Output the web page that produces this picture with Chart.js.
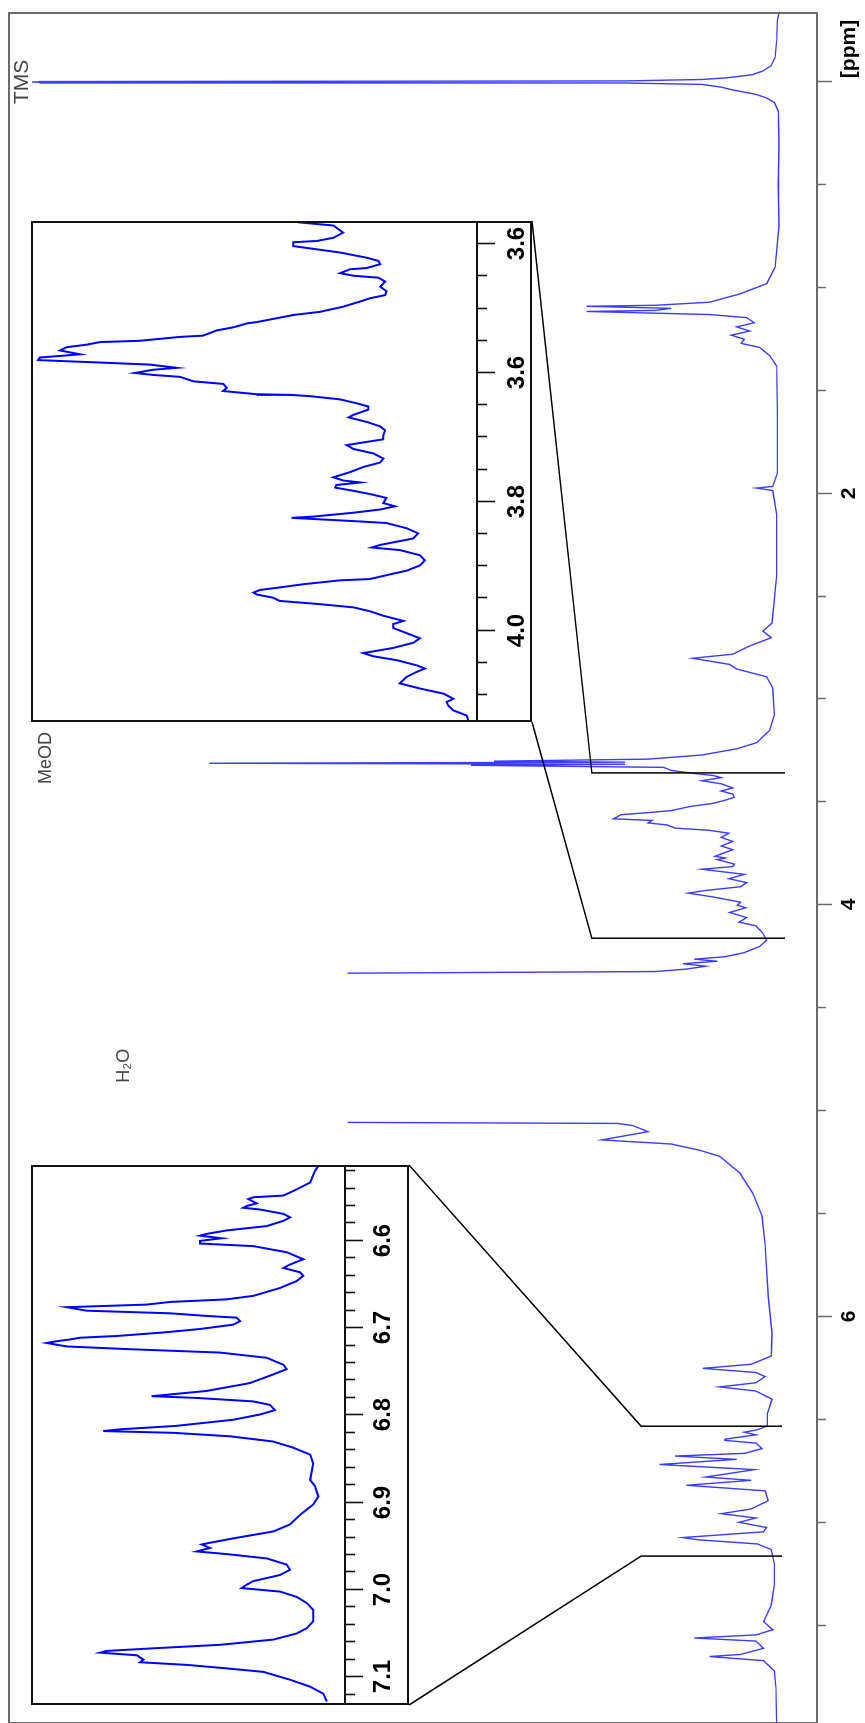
<!DOCTYPE html>
<html lang="en">
<head>
<meta charset="UTF-8">
<title>1H NMR spectrum</title>
<script src="https://cdn.jsdelivr.net/npm/chart.js"></script>
<style>
  html, body { margin: 0; padding: 0; background: #fff; }
  #wrap { position: relative; width: 865px; height: 1723px; overflow: hidden; background: #fff; }
  /* spectrum is laid out the normal way, then turned a quarter turn */
  #rot { position: absolute; left: 0; top: 0; width: 1723px; height: 865px;
         transform-origin: 0 0; transform: translateY(1723px) rotate(-90deg); }
  #rot canvas { position: absolute; }
  .inset { position: absolute; background: #fff; }
</style>
</head>
<body>
<div id="wrap">
  <div id="rot">
    <canvas id="mainChart" width="1723" height="865" style="left:0;top:0"></canvas>
    <div class="inset" id="box1" style="left:1001px;top:31px;width:501px;height:501px">
      <canvas id="inset1" width="501" height="501"></canvas>
    </div>
    <div class="inset" id="box2" style="left:18px;top:31px;width:540px;height:378px">
      <canvas id="inset2" width="540" height="378"></canvas>
    </div>
  </div>
</div>

<script>
// ---- main spectrum (ppm, relative intensity) ----
const mainPpm = [
  -0.335, -0.30, -0.20, -0.12, -0.08, -0.053, -0.035, -0.02, -0.012, -0.005, -0.002, 0.0, 0.002, 0.005, 0.012, 0.025, 0.039, 0.06, 0.078, 0.10, 0.141,
  0.3, 0.5, 0.7, 0.9, 0.98, 1.03, 1.07, 1.085, 1.09, 1.10, 1.11, 1.115, 1.13, 1.145, 1.17, 1.19, 1.21, 1.23, 1.25, 1.27, 1.29, 1.33, 1.38,
  1.6, 1.9, 1.965, 1.973, 1.985, 2.1, 2.4, 2.629, 2.668, 2.70, 2.74, 2.78, 2.80, 2.83, 2.852, 2.89, 2.945, 3.076, 3.15, 3.21, 3.24, 3.27,
  3.29, 3.30, 3.305, 3.31, 3.315, 3.32, 3.33, 3.345, 3.357, 3.37, 3.38, 3.395, 3.41, 3.43, 3.445, 3.46, 3.475, 3.49, 3.505, 3.52, 3.54,
  3.55, 3.56, 3.58, 3.588, 3.60, 3.61, 3.625, 3.636, 3.65, 3.67, 3.69, 3.712, 3.73, 3.762, 3.77, 3.778, 3.80, 3.812, 3.825, 3.85, 3.871,
  3.89, 3.91, 3.928, 3.941, 3.96, 3.985, 4.00, 4.012, 4.035, 4.06, 4.082, 4.10, 4.135, 4.17, 4.20, 4.23, 4.25, 4.262, 4.272, 4.284,
  4.296, 4.31, 4.322, 4.33, 4.7, 5.055, 5.06, 5.07, 5.10, 5.14, 5.16, 5.19, 5.22, 5.30, 5.40, 5.51, 5.65, 5.90, 6.08, 6.19, 6.23, 6.25, 6.27,
  6.29, 6.32, 6.34, 6.36, 6.40, 6.47, 6.53, 6.548, 6.56, 6.573, 6.594, 6.60, 6.613, 6.64, 6.663, 6.676, 6.692, 6.717, 6.742, 6.778,
  6.794, 6.818, 6.845, 6.893, 6.933, 6.956, 6.977, 6.998, 7.023, 7.044, 7.072, 7.083, 7.103, 7.13, 7.2, 7.3, 7.40, 7.48, 7.52, 7.545,
  7.56, 7.575, 7.61, 7.64, 7.65, 7.67, 7.72, 7.8, 7.973
];
const mainInt = [
  0.0, 0.2, 0.3, 0.5, 1.0, 2.1, 3.5, 6.8, 10, 20, 96, 97, 96, 20, 10, 7.5, 6.0, 3.0, 1.6, 0.6, 0.1,
  0.0, 0.1, 0.0, 0.5, 1.6, 5.1, 9, 16, 25, 14, 16, 25, 9, 4.2, 3.2, 5.5, 3.8, 6.2, 4.5, 4.9, 2.5, 1.2, 0.3,
  0.2, 0.2, 0.8, 2.9, 0.8, 0.3, 0.3, 0.9, 2.1, 1.0, 3.8, 6.0, 11.2, 6.4, 5.5, 1.6, 0.8, 0.6, 1.2, 2.9, 5.5, 10,
  17, 37, 20, 74, 20, 40, 15, 14, 11.6, 8.5, 7.5, 10, 7.5, 6, 7.5, 6, 5.8, 7, 8.6, 11.5, 14,
  17, 20.5, 21.5, 16.5, 17, 14.5, 13.5, 9, 6.5, 7.5, 6, 7.5, 6, 8.3, 7, 8, 5.8, 6, 10, 4.5, 6.5,
  4.2, 5, 9.5, 11.8, 8.5, 5, 5.4, 4.3, 6.4, 4.2, 5.2, 3, 2.1, 1.6, 2.5, 4.5, 7, 11, 8, 12.5,
  9.5, 12, 16, 56, null, 56, 21, 19, 17, 23, 14, 10.3, 7.7, 5.1, 3.4, 2.2, 1.8, 1.4, 0.9, 1.0, 3.6, 9.9, 3,
  1.8, 3, 7.7, 3, 0.9, 1.5, 1.5, 2.8, 4.5, 3, 7, 7, 3, 2.2, 4.5, 13.5, 5.5, 15.5, 3.2, 9.5,
  3.6, 12, 1.8, 1.4, 3.6, 7.5, 3, 5.2, 1.6, 2, 12.5, 10.5, 2.8, 1, 0.6, 0.6, 1.0, 2.0, 0.8, 3,
  11, 3, 2, 5, 9, 2, 0.6, 0.4, 0.3
];
const mainTicks = [0, 0.5, 1, 1.5, 2, 2.5, 3, 3.5, 4, 4.5, 5, 5.5, 6, 6.5, 7, 7.5];
const mainTickLabels = ['', '', '', '', '2', '', '', '', '4', '', '', '', '6', '', '', ''];
const mainMajor = [0, 2, 4, 6];
const peakNames = ['TMS', 'MeOD', 'H\u2082O'];
const peakPpm = [0.0, 3.285, 4.78];
const peakLabelInt = [98.3, 95.2, 85];

// ---- zoomed region 1: 3.36 - 4.14 ppm ----
const zoom1Ppm = [
  3.366, 3.371, 3.382, 3.390, 3.395, 3.397, 3.403, 3.408, 3.413, 3.421, 3.426, 3.431, 3.437, 3.439, 3.445, 3.449, 3.452, 3.458,
  3.466, 3.473, 3.479, 3.484, 3.489, 3.497, 3.505, 3.510, 3.515, 3.521, 3.523, 3.529, 3.534, 3.542, 3.544, 3.550, 3.552, 3.556,
  3.560, 3.565, 3.571, 3.576, 3.580, 3.584, 3.587, 3.592, 3.595, 3.600, 3.603, 3.606, 3.613, 3.617, 3.623, 3.628, 3.633, 3.634,
  3.636, 3.641, 3.647, 3.652, 3.657, 3.665, 3.669, 3.676, 3.683, 3.689, 3.697, 3.703, 3.707, 3.712, 3.718, 3.725, 3.733, 3.739,
  3.746, 3.754, 3.762, 3.767, 3.770, 3.774, 3.778, 3.783, 3.788, 3.794, 3.802, 3.807, 3.812, 3.817, 3.823, 3.825, 3.830, 3.833,
  3.841, 3.849, 3.857, 3.862, 3.867, 3.871, 3.875, 3.883, 3.891, 3.899, 3.907, 3.914, 3.920, 3.922, 3.928, 3.933, 3.937, 3.941,
  3.944, 3.949, 3.954, 3.959, 3.964, 3.970, 3.977, 3.985, 3.990, 3.996, 4.004, 4.012, 4.019, 4.027, 4.035, 4.040, 4.046, 4.054,
  4.059, 4.064, 4.072, 4.082, 4.090, 4.098, 4.106, 4.111, 4.117, 4.124, 4.132, 4.140
];
const zoom1Int = [
  40.1, 32.2, 30.0, 32.2, 35.9, 41.2, 41.2, 35.9, 30.7, 24.7, 22.1, 21.7, 24.7, 28.5, 30.7, 27.7, 22.1, 20.6,
  21.7, 20.3, 20.6, 24.0, 26.2, 30.0, 35.2, 41.2, 44.9, 49.4, 51.6, 54.6, 58.4, 61.4, 66.6, 75.6, 84.5, 87.5,
  92.0, 93.5, 89.0, 98.0, 98.4, 83.8, 73.3, 67.3, 72.6, 76.7, 72.6, 66.6, 63.6, 56.9, 56.1, 56.9, 49.4, 41.9,
  37.4, 30.7, 27.0, 24.4, 24.4, 27.7, 28.8, 24.7, 21.7, 20.6, 21.0, 21.0, 24.7, 29.2, 27.7, 23.2, 21.0, 21.7,
  25.5, 28.5, 32.2, 30.0, 26.2, 31.5, 31.8, 27.7, 24.0, 20.3, 21.0, 18.4, 21.7, 27.7, 36.7, 41.6, 27.7, 20.3,
  15.8, 13.2, 14.3, 18.0, 21.7, 23.6, 17.3, 12.8, 11.7, 12.8, 15.8, 20.3, 24.0, 30.7, 38.9, 44.2, 48.7, 50.1,
  49.4, 45.7, 44.2, 35.2, 27.7, 24.0, 21.0, 16.5, 18.8, 18.8, 15.8, 12.8, 14.3, 18.8, 25.5, 23.2, 18.0, 13.5,
  11.7, 13.5, 15.8, 17.3, 12.8, 7.5, 5.3, 6.8, 6.4, 5.3, 2.3, 1.9
];
const zoom1Ticks = [3.4, 3.45, 3.5, 3.55, 3.6, 3.65, 3.7, 3.75, 3.8, 3.85, 3.9, 3.95, 4.0, 4.05, 4.1];
const zoom1TickLabels = ['3.6', '', '', '', '3.6', '', '', '', '3.8', '', '', '', '4.0', '', ''];

// ---- zoomed region 2: 6.51 - 7.13 ppm ----
const zoom2Ppm = [
  6.514, 6.520, 6.533, 6.541, 6.548, 6.550, 6.552, 6.557, 6.560, 6.562, 6.564, 6.569, 6.573, 6.577, 6.583, 6.588, 6.592, 6.594,
  6.597, 6.600, 6.603, 6.606, 6.613, 6.621, 6.627, 6.631, 6.636, 6.640, 6.646, 6.654, 6.663, 6.667, 6.670, 6.673, 6.676, 6.680,
  6.683, 6.686, 6.688, 6.692, 6.696, 6.701, 6.705, 6.709, 6.711, 6.713, 6.715, 6.717, 6.721, 6.724, 6.728, 6.734, 6.742, 6.747,
  6.753, 6.763, 6.772, 6.776, 6.778, 6.780, 6.784, 6.788, 6.794, 6.799, 6.805, 6.812, 6.816, 6.818, 6.820, 6.824, 6.830, 6.837,
  6.845, 6.855, 6.864, 6.874, 6.881, 6.893, 6.902, 6.914, 6.925, 6.933, 6.941, 6.946, 6.948, 6.952, 6.956, 6.959, 6.964, 6.971,
  6.977, 6.983, 6.990, 6.994, 6.998, 7.002, 7.008, 7.015, 7.023, 7.036, 7.044, 7.050, 7.057, 7.063, 7.067, 7.070, 7.072, 7.075,
  7.080, 7.083, 7.086, 7.090, 7.094, 7.103, 7.111, 7.119, 7.128
];
const zoom2Int = [
  8.5, 9.6, 11.1, 15.4, 19.6, 29.2, 30.8, 28.1, 31.3, 32.4, 27.1, 19.6, 17.5, 19.6, 24.9, 37.7, 44.1, 46.2,
  39.3, 46.2, 46.2, 29.2, 18.6, 13.3, 17.5, 19.6, 14.3, 13.3, 15.4, 20.7, 29.2, 37.7, 55.7, 63.2, 88.6, 82.3,
  55.7, 44.1, 34.5, 33.4, 35.6, 46.2, 57.9, 72.7, 84.4, 87.6, 91.8, 95.0, 88.6, 69.5, 39.8, 24.9, 19.6, 18.6,
  22.8, 30.3, 44.1, 55.7, 61.6, 47.2, 29.2, 23.9, 22.3, 27.1, 35.6, 53.6, 71.7, 77.0, 54.7, 36.6, 22.8, 16.5,
  11.1, 10.1, 10.6, 11.1, 9.6, 8.5, 10.1, 14.3, 17.5, 22.8, 35.6, 43.0, 45.6, 43.0, 47.2, 37.7, 24.9, 18.6,
  17.5, 20.7, 29.2, 31.3, 32.9, 20.7, 15.4, 12.2, 10.1, 10.1, 12.2, 15.4, 22.8, 39.8, 61.0, 75.9, 78.0, 66.3,
  64.2, 65.3, 50.4, 37.7, 26.0, 17.5, 11.1, 6.9, 5.8
];
const zoom2Ticks = [6.52, 6.54, 6.56, 6.58, 6.6, 6.62, 6.64, 6.66, 6.68, 6.7, 6.72, 6.74, 6.76, 6.78, 6.8, 6.82, 6.84, 6.86,
  6.88, 6.9, 6.92, 6.94, 6.96, 6.98, 7.0, 7.02, 7.04, 7.06, 7.08, 7.1, 7.12];
const zoom2Major = [6.6, 6.7, 6.8, 6.9, 7.0, 7.1];

// ranges marked on the full spectrum: [low ppm, high ppm, top intensity, bottom intensity]
const zoomMarks = [[3.357, 4.16, 24.3, -0.8], [6.531, 7.162, 17.9, -0.4]];

function pts(xs, ys) {
  return xs.map(function (x, i) { return { x: x, y: ys[i] }; });
}
function near(a, b) { return Math.abs(a - b) < 1e-6; }

const frameColor = '#6a6a6a';

const mainDecor = {
  id: 'mainDecor',
  afterDatasetsDraw(chart) {
    const ctx = chart.ctx, a = chart.chartArea;
    const xs = chart.scales.x, ys = chart.scales.y;
    ctx.save();
    // frame
    ctx.strokeStyle = frameColor;
    ctx.lineWidth = 2;
    ctx.strokeRect(a.left, a.top, a.right - a.left, a.bottom - a.top);
    // ppm ticks
    ctx.lineWidth = 1.5;
    ctx.fillStyle = '#000';
    ctx.font = 'bold 21px "Liberation Sans", Arial, sans-serif';
    ctx.textAlign = 'center';
    ctx.textBaseline = 'middle';
    mainTicks.forEach(function (t, i) {
      const px = Math.round(xs.getPixelForValue(t)) + 0.5;
      const len = mainMajor.some(function (m) { return near(m, t); }) ? 15 : 9;
      ctx.beginPath();
      ctx.moveTo(px, a.bottom);
      ctx.lineTo(px, a.bottom + len);
      ctx.stroke();
      if (mainTickLabels[i]) ctx.fillText(mainTickLabels[i], px, a.bottom + 32);
    });
    ctx.fillText('[ppm]', xs.getPixelForValue(-0.16), a.bottom + 32);

    // peak names
    ctx.fillStyle = '#444';
    peakNames.forEach(function (n, i) {
      ctx.font = (i === 0 ? '21px' : '18px') + ' "Liberation Sans", Arial, sans-serif';
      ctx.fillText(n, xs.getPixelForValue(peakPpm[i]), ys.getPixelForValue(peakLabelInt[i]));
    });

    // zoom range markers and connectors to the insets
    ctx.strokeStyle = '#000';
    ctx.lineWidth = 1.5;
    const boxes = [document.getElementById('box1'), document.getElementById('box2')];
    zoomMarks.forEach(function (m, i) {
      const b = boxes[i];
      const bx0 = b.offsetLeft, bx1 = b.offsetLeft + b.offsetWidth, by = b.offsetTop + b.offsetHeight;
      const pLo = xs.getPixelForValue(m[0]), pHi = xs.getPixelForValue(m[1]);
      const top = ys.getPixelForValue(m[2]), bot = ys.getPixelForValue(m[3]);
      ctx.beginPath();
      ctx.moveTo(bx1, by); ctx.lineTo(pLo, top); ctx.lineTo(pLo, bot);
      ctx.moveTo(bx0, by); ctx.lineTo(pHi, top); ctx.lineTo(pHi, bot);
      ctx.stroke();
    });
    ctx.restore();
  }
};

new Chart(document.getElementById('mainChart'), {
  type: 'line',
  data: {
    datasets: [{
      data: pts(mainPpm, mainInt),
      borderColor: '#3c3cff',
      borderWidth: 1.4,
      pointRadius: 0,
      tension: 0,
      spanGaps: false
    }]
  },
  options: {
    responsive: false,
    animation: false,
    devicePixelRatio: 1,
    layout: { padding: { left: 0, right: 13, top: 9, bottom: 48 } },
    plugins: { legend: { display: false }, tooltip: { enabled: false } },
    scales: {
      x: { type: 'linear', reverse: true, min: -0.335, max: 7.973, display: false },
      y: { type: 'linear', min: -4.94, max: 100, display: false }
    }
  },
  plugins: [mainDecor]
});

function insetDecor(ticks, isMajor, labelFor, labelGap) {
  return {
    id: 'insetDecor',
    afterDatasetsDraw(chart) {
      const ctx = chart.ctx, a = chart.chartArea, xs = chart.scales.x;
      const w = chart.width, h = chart.height;
      ctx.save();
      ctx.strokeStyle = '#111';
      ctx.lineWidth = 2;
      ctx.strokeRect(1, 1, w - 2, h - 2);
      ctx.beginPath();
      ctx.moveTo(0, a.bottom);
      ctx.lineTo(w, a.bottom);
      ctx.stroke();
      ctx.lineWidth = 1.6;
      ctx.fillStyle = '#000';
      ctx.font = 'bold 24px "Liberation Sans", Arial, sans-serif';
      ctx.textAlign = 'center';
      ctx.textBaseline = 'middle';
      ticks.forEach(function (t, i) {
        const px = Math.round(xs.getPixelForValue(t)) + 0.5;
        const major = isMajor(t, i);
        ctx.beginPath();
        ctx.moveTo(px, a.bottom);
        ctx.lineTo(px, a.bottom + (major ? 18 : 10));
        ctx.stroke();
        const lab = labelFor(t, i);
        if (lab) ctx.fillText(lab, px, a.bottom + labelGap);
      });
      ctx.restore();
    }
  };
}

function makeInset(id, xs, ys, lo, hi, padBottom, decor) {
  new Chart(document.getElementById(id), {
    type: 'line',
    data: {
      datasets: [{
        data: pts(xs, ys),
        borderColor: '#0000ff',
        borderWidth: 2,
        pointRadius: 0,
        tension: 0
      }]
    },
    options: {
      responsive: false,
      animation: false,
      devicePixelRatio: 1,
      layout: { padding: { left: 0, right: 0, top: 0, bottom: padBottom } },
      plugins: { legend: { display: false }, tooltip: { enabled: false } },
      scales: {
        x: { type: 'linear', reverse: true, min: lo, max: hi, display: false },
        y: { type: 'linear', min: 0, max: 100, display: false }
      }
    },
    plugins: [decor]
  });
}

makeInset('inset1', zoom1Ppm, zoom1Int, 3.364, 4.142, 55,
  insetDecor(zoom1Ticks,
    function (t, i) { return zoom1TickLabels[i] !== ''; },
    function (t, i) { return zoom1TickLabels[i]; }, 40));

makeInset('inset2', zoom2Ppm, zoom2Int, 6.513, 7.132, 64,
  insetDecor(zoom2Ticks,
    function (t) { return zoom2Major.some(function (m) { return near(m, t); }); },
    function (t) { return zoom2Major.some(function (m) { return near(m, t); }) ? t.toFixed(1) : ''; }, 38));
</script>
</body>
</html>
